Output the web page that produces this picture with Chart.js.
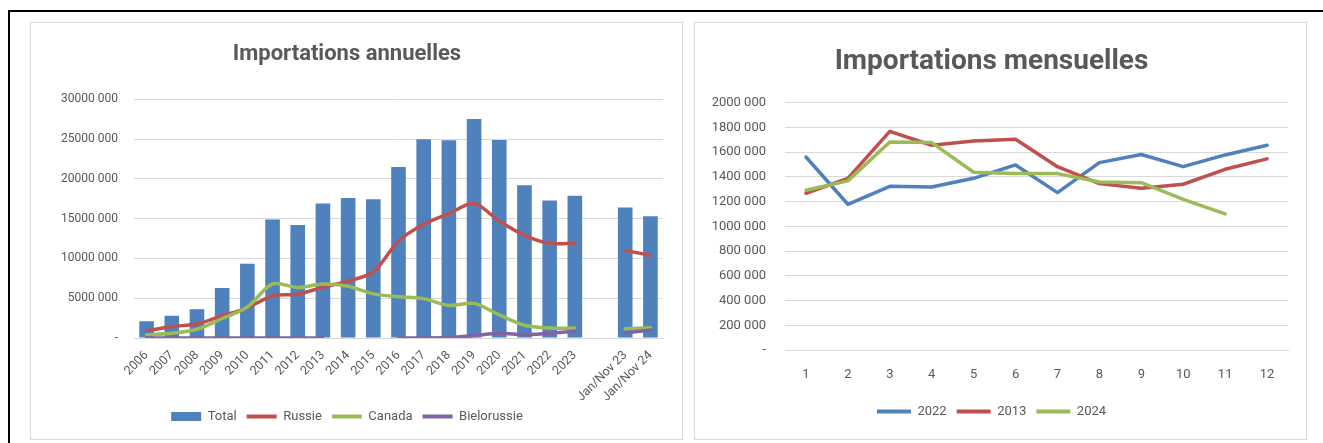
<!DOCTYPE html>
<html>
<head>
<meta charset="utf-8">
<script src="https://cdn.jsdelivr.net/npm/chart.js@4.4.1/dist/chart.umd.min.js"></script>
<style>
  body { margin: 0; width: 1323px; height: 443px; background: #fff; overflow: hidden; position: relative; }
  .frame { position: absolute; left: 8px; top: 10px; width: 1400px; height: 500px; border-top: 2px solid #000; border-left: 2px solid #000; }
  .panel { position: absolute; top: 22px; height: 418px; border: 1px solid #d9d9d9; box-sizing: border-box; background: #fff; }
  #leftPanel { left: 30px; width: 653px; }
  #rightPanel { left: 694px; width: 613px; }
  canvas { display: block; }
</style>
</head>
<body>
<div class="frame"></div>
<div class="panel" id="leftPanel"><canvas id="annualChart" width="651" height="416"></canvas></div>
<div class="panel" id="rightPanel"><canvas id="monthlyChart" width="611" height="416"></canvas></div>
<script>
const annualLabels = ["2006", "2007", "2008", "2009", "2010", "2011", "2012", "2013", "2014", "2015", "2016",
  "2017", "2018", "2019", "2020", "2021", "2022", "2023", "", "Jan/Nov 23", "Jan/Nov 24"];
const totalImports = [2100000, 2800000, 3600000, 6300000, 9350000, 14900000, 14200000, 16900000, 17600000,
  17450000, 21500000, 25000000, 24850000, 27550000, 24900000, 19200000, 17300000, 17900000, null, 16400000, 15300000];
const russieImports = [900000, 1450000, 1750000, 2800000, 3800000, 5300000, 5500000, 6400000, 7150000,
  8300000, 12200000, 14300000, 15650000, 16900000, 14700000, 12900000, 11900000, 11900000, null, 11000000, 10400000];
const canadaImports = [400000, 600000, 1100000, 2450000, 3900000, 6800000, 6350000, 6800000, 6500000,
  5550000, 5200000, 4950000, 4100000, 4350000, 2900000, 1600000, 1250000, 1250000, null, 1150000, 1300000];
const bielorussieImports = [0, 0, 0, 0, 0, 0, 0, 0, null, null, 0, 0, 50000, 300000, 600000, 400000,
  600000, 850000, null, 650000, 1000000];

const monthLabels = ["1", "2", "3", "4", "5", "6", "7", "8", "9", "10", "11", "12"];
const imports2022 = [1560000, 1178000, 1323000, 1318000, 1388000, 1496000, 1272000, 1515000, 1580000, 1482000, 1577000, 1655000];
const imports2013 = [1267000, 1388000, 1768000, 1655000, 1690000, 1703000, 1482000, 1345000, 1307000, 1340000, 1461000, 1545000];
const imports2024 = [1291000, 1367000, 1682000, 1677000, 1437000, 1426000, 1426000, 1358000, 1353000, 1218000, 1100000, null];

const FONT = "'Liberation Sans Narrow', 'Arial Narrow', Roboto, sans-serif";
const GREY = "#595959";
const GRID = "#d9d9d9";

// excel style "30000 000", zero shown as "-"
const fmt = (v) => {
  if (v === 0) return "-";
  const th = Math.floor(v / 1000);
  return th + " " + String(v % 1000).padStart(3, "0");
};

const lineDs = (label, data, color, order, tension) => ({
  type: "line",
  label: label,
  data: data,
  borderColor: color,
  backgroundColor: color,
  borderWidth: 3.5,
  borderCapStyle: "round",
  borderJoinStyle: "round",
  pointRadius: 0,
  tension: tension,
  spanGaps: false,
  order: order,
});

Chart.defaults.animation = false;
Chart.defaults.font.family = FONT;
Chart.defaults.color = GREY;

new Chart(document.getElementById("annualChart").getContext("2d"), {
  type: "bar",
  data: {
    labels: annualLabels,
    datasets: [
      {
        label: "Total",
        data: totalImports,
        backgroundColor: "#4f81bd",
        borderWidth: 0,
        barPercentage: 0.58,
        categoryPercentage: 1,
        order: 4,
      },
      lineDs("Russie", russieImports, "#c0504d", 3, 0.3),
      lineDs("Canada", canadaImports, "#9bbb59", 2, 0.3),
      lineDs("Bielorussie", bielorussieImports, "#8064a2", 1, 0.3),
    ],
  },
  options: {
    responsive: false,
    layout: { padding: { left: 0, right: 19, top: 0, bottom: 6 } },
    plugins: {
      title: {
        display: true,
        text: "Importations annuelles",
        color: GREY,
        font: { size: 22, weight: "bold" },
        padding: { top: 18, bottom: 32 },
      },
      legend: {
        position: "bottom",
        labels: {
          usePointStyle: true,
          pointStyleWidth: 30,
          boxWidth: 30,
          boxHeight: 9,
          padding: 10,
          font: { size: 13 },
          color: GREY,
          sort: (a, b) => a.datasetIndex - b.datasetIndex,
          generateLabels: (chart) => {
            const items = Chart.defaults.plugins.legend.labels.generateLabels(chart);
            items.forEach((it) => {
              it.pointStyle = it.datasetIndex === 0 ? "rect" : "line";
              if (it.datasetIndex > 0) it.lineWidth = 4;
            });
            return items;
          },
        },
      },
      tooltip: { enabled: false },
    },
    scales: {
      x: {
        grid: { display: false },
        border: { display: true, color: GRID },
        ticks: { autoSkip: false, minRotation: 45, maxRotation: 45, padding: 2, font: { size: 12.5 } },
        afterFit: (scale) => { scale.height = 62; },
      },
      y: {
        min: 0,
        max: 30000000,
        grid: { color: GRID, drawTicks: false },
        border: { display: false },
        ticks: { stepSize: 5000000, padding: 16, font: { size: 12 }, callback: (v) => fmt(v) },
        afterFit: (scale) => { scale.width = 103; },
      },
    },
  },
});

new Chart(document.getElementById("monthlyChart").getContext("2d"), {
  type: "line",
  data: {
    labels: monthLabels,
    datasets: [
      lineDs("2022", imports2022, "#4f81bd", 3, 0),
      lineDs("2013", imports2013, "#c0504d", 2, 0),
      lineDs("2024", imports2024, "#9bbb59", 1, 0),
    ],
  },
  options: {
    responsive: false,
    layout: { padding: { left: 0, right: 18, top: 0, bottom: 11 } },
    plugins: {
      title: {
        display: true,
        text: "Importations mensuelles",
        color: GREY,
        font: { size: 28, weight: "bold" },
        padding: { top: 22, bottom: 24 },
      },
      legend: {
        position: "bottom",
        labels: {
          usePointStyle: true,
          pointStyle: "line",
          pointStyleWidth: 34,
          boxWidth: 34,
          boxHeight: 9,
          padding: 10,
          font: { size: 13 },
          color: GREY,
          sort: (a, b) => a.datasetIndex - b.datasetIndex,
          generateLabels: (chart) => {
            const items = Chart.defaults.plugins.legend.labels.generateLabels(chart);
            items.forEach((it) => { it.pointStyle = "line"; it.lineWidth = 4; });
            return items;
          },
        },
      },
      tooltip: { enabled: false },
    },
    scales: {
      x: {
        offset: true,
        grid: { display: false },
        border: { display: true, color: GRID },
        ticks: { padding: 9, font: { size: 13 } },
        afterFit: (scale) => { scale.height = 45; },
      },
      y: {
        min: 0,
        max: 2000000,
        grid: { color: GRID, drawTicks: false },
        border: { display: false },
        ticks: { stepSize: 200000, padding: 19, font: { size: 13 }, callback: (v) => fmt(v) },
        afterFit: (scale) => { scale.width = 90; },
      },
    },
  },
});
</script>
</body>
</html>
